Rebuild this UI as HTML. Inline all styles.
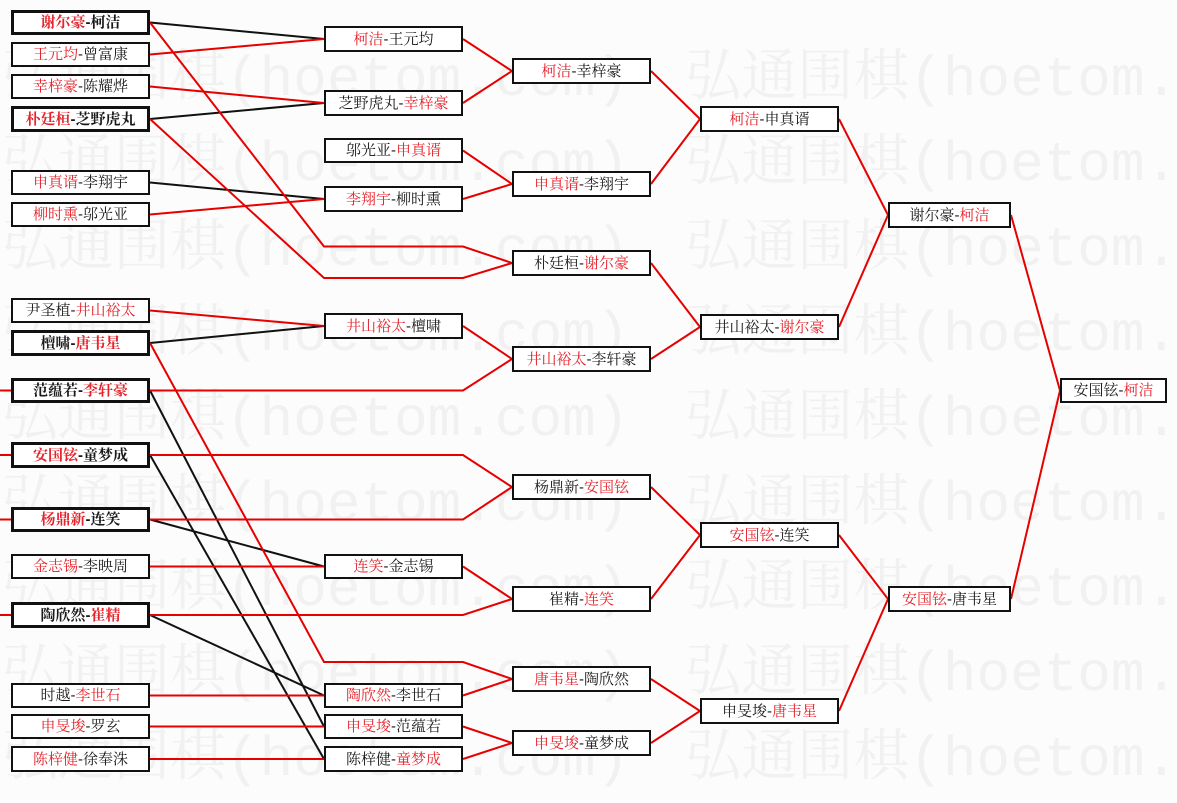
<!DOCTYPE html>
<html><head><meta charset="utf-8">
<style>
html,body{margin:0;padding:0;}
body{width:1177px;height:781px;position:relative;overflow:hidden;background:#fcfcfc;font-family:"Liberation Sans","Noto Serif CJK SC",serif;}
.wm{position:absolute;left:2px;white-space:nowrap;font-family:"Liberation Mono","Noto Serif CJK SC",monospace;font-size:56px;line-height:85px;color:#f1f1f1;}
svg{position:absolute;left:0;top:0;}
.b{position:absolute;box-sizing:border-box;border:2px solid #111;background:#fff;display:flex;align-items:center;justify-content:center;font-size:15px;color:#1a1a1a;white-space:nowrap;line-height:1;}
.b.t{border-width:3px;font-weight:bold;}
.r{color:#e5232b;}
</style></head><body>
<div class="wm" style="top:38px">弘通围棋(hoetom.com)　弘通围棋(hoetom.com)</div>
<div class="wm" style="top:123px">弘通围棋(hoetom.com)　弘通围棋(hoetom.com)</div>
<div class="wm" style="top:208px">弘通围棋(hoetom.com)　弘通围棋(hoetom.com)</div>
<div class="wm" style="top:293px">弘通围棋(hoetom.com)　弘通围棋(hoetom.com)</div>
<div class="wm" style="top:378px">弘通围棋(hoetom.com)　弘通围棋(hoetom.com)</div>
<div class="wm" style="top:463px">弘通围棋(hoetom.com)　弘通围棋(hoetom.com)</div>
<div class="wm" style="top:548px">弘通围棋(hoetom.com)　弘通围棋(hoetom.com)</div>
<div class="wm" style="top:633px">弘通围棋(hoetom.com)　弘通围棋(hoetom.com)</div>
<div class="wm" style="top:718px">弘通围棋(hoetom.com)　弘通围棋(hoetom.com)</div>

<svg width="1177" height="781" viewBox="0 0 1177 781">
<g fill="none" stroke-width="2" stroke-linejoin="miter">
<g stroke="#111">
<polyline points="150,22.5 324,39"/>
<polyline points="150,119 324,103"/>
<polyline points="150,182.5 324,199"/>
<polyline points="150,343 324,326"/>
<polyline points="150,390.5 324,726.5"/>
<polyline points="150,455 324,759"/>
<polyline points="150,519.5 324,566.5"/>
<polyline points="150,615 324,695.5"/>
</g>
<g stroke="#e60000">
<polyline points="0,390.5 11,390.5"/>
<polyline points="0,455 11,455"/>
<polyline points="0,519.5 11,519.5"/>
<polyline points="0,615 11,615"/>
<polyline points="150,54.5 324,39"/>
<polyline points="150,86.5 324,103"/>
<polyline points="150,22.5 324,246.5 463,246.5 512,263"/>
<polyline points="150,119 324,278 463,278 512,263"/>
<polyline points="150,214.5 324,199"/>
<polyline points="150,310.5 324,326"/>
<polyline points="150,343 324,662 463,662 512,679"/>
<polyline points="150,390.5 463,390.5 512,359"/>
<polyline points="150,455 463,455 512,487"/>
<polyline points="150,519.5 463,519.5 512,487"/>
<polyline points="150,566.5 324,566.5"/>
<polyline points="150,615 463,615 512,599"/>
<polyline points="150,695.5 324,695.5"/>
<polyline points="150,726.5 324,726.5"/>
<polyline points="150,759 324,759"/>
<polyline points="463,39 512,71 463,103"/>
<polyline points="463,150.5 512,184 463,199"/>
<polyline points="463,326 512,359"/>
<polyline points="463,566.5 512,599"/>
<polyline points="463,695.5 512,679"/>
<polyline points="463,726.5 512,743 463,759"/>
<polyline points="651,71 700,119 651,184"/>
<polyline points="651,263 700,327 651,359"/>
<polyline points="651,487 700,535 651,599"/>
<polyline points="651,679 700,711 651,743"/>
<polyline points="839,119 888,215 839,327"/>
<polyline points="839,535 888,599 839,711"/>
<polyline points="1011,215 1060,390.5 1011,599"/>
</g>
</g>
</svg>

<!-- Column 1 -->
<div class="b t" style="left:11px;top:10px;width:139px;height:25px"><span class="r">谢尔豪</span>-柯洁</div>
<div class="b" style="left:11px;top:42px;width:139px;height:25px"><span class="r">王元均</span>-曾富康</div>
<div class="b" style="left:11px;top:74px;width:139px;height:25px"><span class="r">幸梓豪</span>-陈耀烨</div>
<div class="b t" style="left:11px;top:106px;width:139px;height:26px"><span class="r">朴廷桓</span>-芝野虎丸</div>
<div class="b" style="left:11px;top:170px;width:139px;height:25px"><span class="r">申真谞</span>-李翔宇</div>
<div class="b" style="left:11px;top:202px;width:139px;height:25px"><span class="r">柳时熏</span>-邬光亚</div>
<div class="b" style="left:11px;top:298px;width:139px;height:25px">尹圣植-<span class="r">井山裕太</span></div>
<div class="b t" style="left:11px;top:330px;width:139px;height:26px">檀啸-<span class="r">唐韦星</span></div>
<div class="b t" style="left:11px;top:378px;width:139px;height:25px">范蕴若-<span class="r">李轩豪</span></div>
<div class="b t" style="left:11px;top:442px;width:139px;height:26px"><span class="r">安国铉</span>-童梦成</div>
<div class="b t" style="left:11px;top:507px;width:139px;height:25px"><span class="r">杨鼎新</span>-连笑</div>
<div class="b" style="left:11px;top:554px;width:139px;height:25px"><span class="r">金志锡</span>-李映周</div>
<div class="b t" style="left:11px;top:602px;width:139px;height:26px">陶欣然-<span class="r">崔精</span></div>
<div class="b" style="left:11px;top:683px;width:139px;height:25px">时越-<span class="r">李世石</span></div>
<div class="b" style="left:11px;top:714px;width:139px;height:25px"><span class="r">申旻埈</span>-罗玄</div>
<div class="b" style="left:11px;top:746px;width:139px;height:26px"><span class="r">陈梓健</span>-徐奉洙</div>

<!-- Column 2 -->
<div class="b" style="left:324px;top:26px;width:139px;height:26px"><span class="r">柯洁</span>-王元均</div>
<div class="b" style="left:324px;top:90px;width:139px;height:26px">芝野虎丸-<span class="r">幸梓豪</span></div>
<div class="b" style="left:324px;top:138px;width:139px;height:25px">邬光亚-<span class="r">申真谞</span></div>
<div class="b" style="left:324px;top:186px;width:139px;height:26px"><span class="r">李翔宇</span>-柳时熏</div>
<div class="b" style="left:324px;top:313px;width:139px;height:26px"><span class="r">井山裕太</span>-檀啸</div>
<div class="b" style="left:324px;top:554px;width:139px;height:25px"><span class="r">连笑</span>-金志锡</div>
<div class="b" style="left:324px;top:683px;width:139px;height:25px"><span class="r">陶欣然</span>-李世石</div>
<div class="b" style="left:324px;top:714px;width:139px;height:25px"><span class="r">申旻埈</span>-范蕴若</div>
<div class="b" style="left:324px;top:746px;width:139px;height:26px">陈梓健-<span class="r">童梦成</span></div>

<!-- Column 3 -->
<div class="b" style="left:512px;top:58px;width:139px;height:26px"><span class="r">柯洁</span>-幸梓豪</div>
<div class="b" style="left:512px;top:171px;width:139px;height:26px"><span class="r">申真谞</span>-李翔宇</div>
<div class="b" style="left:512px;top:250px;width:139px;height:26px">朴廷桓-<span class="r">谢尔豪</span></div>
<div class="b" style="left:512px;top:346px;width:139px;height:26px"><span class="r">井山裕太</span>-李轩豪</div>
<div class="b" style="left:512px;top:474px;width:139px;height:26px">杨鼎新-<span class="r">安国铉</span></div>
<div class="b" style="left:512px;top:586px;width:139px;height:26px">崔精-<span class="r">连笑</span></div>
<div class="b" style="left:512px;top:666px;width:139px;height:26px"><span class="r">唐韦星</span>-陶欣然</div>
<div class="b" style="left:512px;top:730px;width:139px;height:26px"><span class="r">申旻埈</span>-童梦成</div>

<!-- Column 4 -->
<div class="b" style="left:700px;top:106px;width:139px;height:26px"><span class="r">柯洁</span>-申真谞</div>
<div class="b" style="left:700px;top:314px;width:139px;height:26px">井山裕太-<span class="r">谢尔豪</span></div>
<div class="b" style="left:700px;top:522px;width:139px;height:26px"><span class="r">安国铉</span>-连笑</div>
<div class="b" style="left:700px;top:698px;width:139px;height:26px">申旻埈-<span class="r">唐韦星</span></div>

<!-- Column 5 -->
<div class="b" style="left:888px;top:202px;width:123px;height:26px">谢尔豪-<span class="r">柯洁</span></div>
<div class="b" style="left:888px;top:586px;width:123px;height:26px"><span class="r">安国铉</span>-唐韦星</div>

<!-- Column 6 -->
<div class="b" style="left:1060px;top:378px;width:107px;height:25px">安国铉-<span class="r">柯洁</span></div>
</body></html>
